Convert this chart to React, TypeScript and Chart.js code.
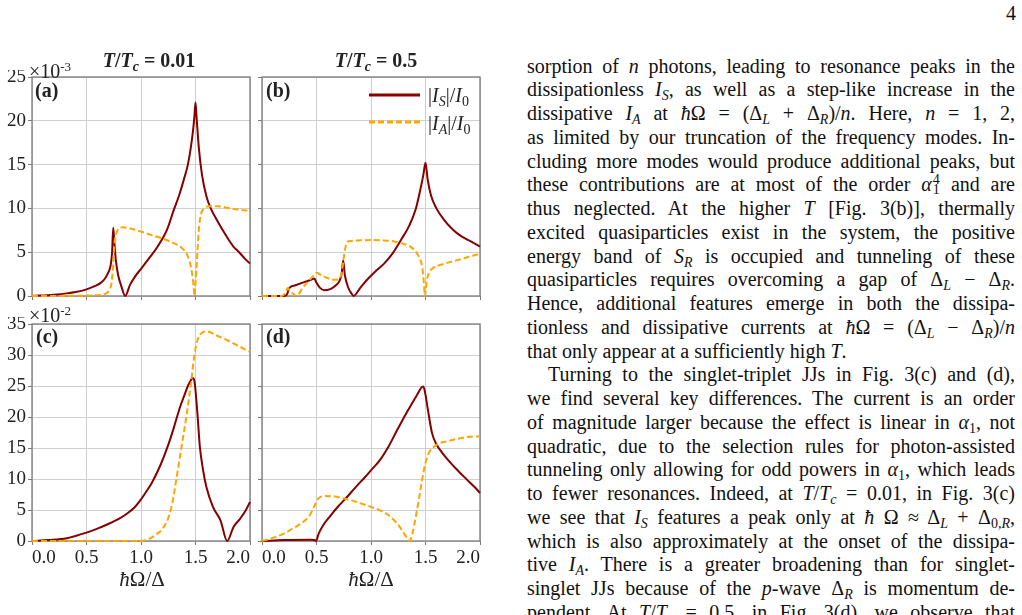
import React, { useEffect, useRef } from 'react';
import { Chart, registerables } from 'chart.js';

Chart.register(...registerables);

// ---------- shared axis settings ----------
const xTickValues = [0, 0.5, 1.0, 1.5, 2.0];
const xTickLabels = ['0.0', '0.5', '1.0', '1.5', '2.0'];
const yTicksTop = [0, 5, 10, 15, 20, 25];
const yTicksBottom = [0, 5, 10, 15, 20, 25, 30, 35];

// ---------- (a) singlet-singlet, T/Tc = 0.01  (units of 1e-3) ----------
const aSx = [0, 0.2, 0.32, 0.4, 0.5, 0.58, 0.63, 0.67, 0.7, 0.72, 0.735, 0.745, 0.755, 0.77, 0.79, 0.82, 0.855, 0.9, 0.95, 1.0, 1.08, 1.15, 1.24, 1.3, 1.35, 1.4, 1.43, 1.46, 1.48, 1.49, 1.5, 1.51, 1.53, 1.56, 1.6, 1.64, 1.7, 1.78, 1.85, 1.9, 1.95, 2.0];
const aSy = [0, 0.15, 0.3, 0.45, 0.76, 1.15, 1.5, 2.0, 2.7, 3.4, 5.0, 7.8, 6.2, 4.0, 2.4, 1.1, 0, 1.3, 2.3, 3.1, 4.4, 5.6, 7.6, 9.8, 11.5, 13.6, 15.0, 17.2, 19.2, 20.5, 22.1, 20.4, 17.0, 13.8, 11.4, 10.0, 8.6, 6.9, 5.6, 5.0, 4.3, 3.7];
const aAx = [0, 0.5, 0.6, 0.68, 0.71, 0.73, 0.745, 0.755, 0.77, 0.79, 0.83, 0.9, 1.0, 1.1, 1.2, 1.28, 1.34, 1.39, 1.42, 1.445, 1.46, 1.475, 1.485, 1.49, 1.5, 1.515, 1.53, 1.55, 1.58, 1.63, 1.7, 1.8, 1.9, 2.0];
const aAy = [0, 0.05, 0.1, 0.3, 0.7, 1.5, 3.5, 5.8, 7.0, 7.6, 7.85, 7.7, 7.35, 6.95, 6.55, 6.15, 5.8, 5.3, 4.8, 4.0, 3.2, 2.0, 0.8, 0, 1.5, 4.5, 7.5, 9.3, 10.0, 10.25, 10.25, 10.05, 9.85, 9.7];

// ---------- (b) singlet-singlet, T/Tc = 0.5  (units of 1e-3) ----------
const bSx = [0, 0.2, 0.23, 0.25, 0.3, 0.38, 0.45, 0.48, 0.5, 0.53, 0.57, 0.62, 0.67, 0.71, 0.73, 0.745, 0.76, 0.79, 0.82, 0.84, 0.9, 0.96, 1.04, 1.12, 1.2, 1.28, 1.35, 1.41, 1.45, 1.48, 1.5, 1.52, 1.55, 1.6, 1.67, 1.75, 1.83, 1.92, 2.0];
const bSy = [0, 0, 0.2, 0.9, 1.2, 1.55, 1.85, 2.0, 1.5, 0.95, 0.65, 0.75, 1.15, 1.7, 2.5, 4.05, 2.4, 1.0, 0.3, 0, 0.9, 1.8, 2.8, 3.7, 4.9, 6.5, 8.0, 9.9, 12.0, 13.8, 15.2, 13.3, 11.5, 10.0, 8.7, 7.6, 6.8, 6.2, 5.65];
const bAx = [0, 0.18, 0.21, 0.235, 0.25, 0.28, 0.32, 0.37, 0.42, 0.47, 0.5, 0.54, 0.6, 0.66, 0.7, 0.73, 0.755, 0.775, 0.8, 0.9, 1.0, 1.1, 1.2, 1.3, 1.37, 1.42, 1.45, 1.47, 1.485, 1.495, 1.51, 1.53, 1.57, 1.65, 1.75, 1.85, 1.93, 2.0];
const bAy = [0, 0, 0.3, 0.9, 0.7, 0.3, 0, 0.9, 1.6, 2.3, 2.65, 2.4, 2.05, 1.85, 1.9, 2.6, 4.8, 6.0, 6.25, 6.35, 6.4, 6.35, 6.25, 5.95, 5.55, 4.9, 4.2, 3.3, 1.5, 0, 1.6, 2.6, 3.2, 3.6, 3.95, 4.3, 4.6, 4.8];

// ---------- (c) singlet-triplet, T/Tc = 0.01  (units of 1e-2) ----------
const cSx = [0, 0.15, 0.32, 0.5, 0.6, 0.72, 0.8, 0.87, 0.94, 1.0, 1.05, 1.1, 1.18, 1.25, 1.3, 1.33, 1.36, 1.4, 1.43, 1.46, 1.475, 1.49, 1.5, 1.52, 1.54, 1.57, 1.6, 1.66, 1.73, 1.79, 1.85, 1.91, 1.96, 2.0];
const cSy = [0, 0.15, 0.45, 1.35, 2.0, 2.9, 3.6, 4.4, 5.4, 6.7, 8.0, 9.4, 12.3, 15.5, 18.2, 20.0, 21.7, 23.6, 25.0, 26.0, 26.3, 25.8, 24.3, 20.0, 15.2, 11.4, 8.7, 5.5, 3.3, 0, 2.3, 3.6, 4.9, 6.3];
const cAx = [0, 1.0, 1.05, 1.1, 1.15, 1.2, 1.25, 1.28, 1.32, 1.37, 1.42, 1.455, 1.49, 1.52, 1.56, 1.6, 1.7, 1.8, 1.9, 2.0];
const cAy = [0, 0, 0.2, 0.6, 1.2, 2.0, 3.7, 5.5, 9.5, 15.0, 20.5, 25.0, 30.0, 32.5, 33.6, 33.8, 33.1, 32.3, 31.4, 30.5];

// ---------- (d) singlet-triplet, T/Tc = 0.5  (units of 1e-2) ----------
const dSx = [0, 0.2, 0.45, 0.48, 0.495, 0.52, 0.56, 0.62, 0.7, 0.78, 0.86, 0.94, 1.0, 1.08, 1.16, 1.24, 1.32, 1.38, 1.43, 1.46, 1.48, 1.5, 1.52, 1.56, 1.6, 1.65, 1.72, 1.8, 1.88, 1.95, 2.0];
const dSy = [0, 0.15, 0.2, 0.15, 0, 1.2, 2.5, 3.9, 5.6, 7.1, 8.7, 10.2, 11.4, 13.0, 15.2, 17.9, 20.5, 22.3, 23.8, 24.7, 24.9, 23.6, 21.4, 17.4, 15.6, 14.3, 12.8, 11.3, 9.9, 8.7, 7.75];
const dAx = [0, 0.1, 0.2, 0.3, 0.38, 0.44, 0.48, 0.52, 0.58, 0.66, 0.74, 0.82, 0.9, 1.0, 1.1, 1.18, 1.24, 1.29, 1.33, 1.355, 1.38, 1.41, 1.44, 1.47, 1.5, 1.53, 1.57, 1.62, 1.7, 1.8, 1.9, 2.0];
const dAy = [0, 0.5, 1.2, 2.2, 3.1, 4.2, 5.6, 6.9, 7.25, 7.2, 6.9, 6.55, 6.1, 5.5, 4.8, 3.9, 2.8, 1.6, 0.5, 0, 1.2, 3.8, 6.8, 10.0, 12.6, 14.2, 15.1, 15.7, 16.1, 16.5, 16.8, 16.9];

// ---------- styling ----------
const SERIF = '"Liberation Serif", "Times New Roman", serif';
const RED = '#850000';
const ORANGE = '#ffa500';
const GRID = '#cfcfcf';
const FRAME = '#7a7a7a';
const TEXT = '#222';
const TICK_FONT = 19;

type Pt = { x: number; y: number };
const pts = (xs: number[], ys: number[]): Pt[] => xs.map((x, i) => ({ x, y: ys[i] }));

const framePlugin = {
  id: 'frame',
  beforeDatasetsDraw(chart: any) {
    const { ctx, chartArea } = chart;
    ctx.save();
    ctx.strokeStyle = FRAME;
    ctx.lineWidth = 1.3;
    ctx.strokeRect(chartArea.left, chartArea.top, chartArea.right - chartArea.left, chartArea.bottom - chartArea.top);
    ctx.restore();
  },
};

type PanelProps = {
  left: number;
  top: number;
  width: number;
  height: number;
  padTop: number;
  padRight: number;
  yWidth: number;
  xHeight: number;
  yMax: number;
  yTicks: number[];
  showX: boolean;
  showY: boolean;
  s: Pt[];
  a: Pt[];
};

function Panel(p: PanelProps) {
  const ref = useRef<HTMLCanvasElement>(null);
  useEffect(() => {
    const chart = new Chart(ref.current as HTMLCanvasElement, {
      type: 'line',
      data: {
        datasets: [
          {
            label: 'IS',
            data: p.s,
            borderColor: RED,
            borderWidth: 2,
            pointRadius: 0,
            cubicInterpolationMode: 'monotone',
            clip: 4,
            order: 2,
          } as any,
          {
            label: 'IA',
            data: p.a,
            borderColor: ORANGE,
            borderWidth: 2,
            borderDash: [6, 3],
            pointRadius: 0,
            cubicInterpolationMode: 'monotone',
            clip: 4,
            order: 1,
          } as any,
        ],
      },
      options: {
        responsive: false,
        animation: false,
        devicePixelRatio: 1,
        events: [],
        layout: { padding: { top: p.padTop, right: p.padRight, left: 0, bottom: 0 } },
        plugins: { legend: { display: false }, tooltip: { enabled: false } },
        scales: {
          x: {
            type: 'linear',
            min: 0,
            max: 2,
            afterBuildTicks: (scale: any) => {
              scale.ticks = xTickValues.map((v) => ({ value: v }));
            },
            afterFit: (scale: any) => {
              scale.height = p.xHeight;
              scale.paddingLeft = 0;
              scale.paddingRight = 0;
            },
            ticks: {
              display: p.showX,
              align: 'inner',
              autoSkip: false,
              maxRotation: 0,
              padding: 2,
              color: TEXT,
              font: { family: SERIF, size: TICK_FONT },
              callback: (_v: any, i: number) => xTickLabels[i],
            },
            grid: { color: GRID, tickColor: FRAME, tickLength: 4, lineWidth: 1 },
            border: { display: false },
          } as any,
          y: {
            type: 'linear',
            min: 0,
            max: p.yMax,
            afterBuildTicks: (scale: any) => {
              scale.ticks = p.yTicks.map((v) => ({ value: v }));
            },
            afterFit: (scale: any) => {
              scale.width = p.yWidth;
              scale.paddingTop = 0;
              scale.paddingBottom = 0;
            },
            ticks: {
              display: p.showY,
              padding: 2,
              color: TEXT,
              font: { family: SERIF, size: TICK_FONT },
              callback: (v: any) => String(v),
            },
            grid: { color: GRID, tickColor: FRAME, tickLength: 4, lineWidth: 1 },
            border: { display: false },
          } as any,
        },
      },
      plugins: [framePlugin],
    });
    return () => chart.destroy();
  }, []);
  return (
    <canvas
      ref={ref}
      width={p.width}
      height={p.height}
      style={{ position: 'absolute', left: p.left, top: p.top, width: p.width, height: p.height }}
    />
  );
}

// ---------- text helpers ----------
const Sb = ({ children }: { children: React.ReactNode }) => (
  <span style={{ fontSize: '0.7em', verticalAlign: '-0.28em', lineHeight: 0 }}>{children}</span>
);

const At = ({ x, y, center, style, children }: { x: number; y: number; center?: boolean; style?: React.CSSProperties; children: React.ReactNode }) => (
  <div
    style={{
      position: 'absolute',
      left: x,
      top: y,
      whiteSpace: 'nowrap',
      lineHeight: 1,
      transform: center ? 'translateX(-50%)' : undefined,
      ...style,
    }}
  >
    {children}
  </div>
);

type BodyLine = { c: React.ReactNode; last?: boolean; indent?: boolean };

const bodyLines: BodyLine[] = [
  { c: <>sorption of <i>n</i> photons, leading to resonance peaks in the</> },
  { c: <>dissipationless <i>I</i><Sb><i>S</i></Sb>, as well as a step-like increase in the</> },
  { c: <>dissipative <i>I</i><Sb><i>A</i></Sb> at <i>ħ</i>Ω = (Δ<Sb><i>L</i></Sb> + Δ<Sb><i>R</i></Sb>)/<i>n</i>. Here, <i>n</i> = 1, 2,</> },
  { c: <>as limited by our truncation of the frequency modes. In-</> },
  { c: <>cluding more modes would produce additional peaks, but</> },
  {
    c: (
      <>
        these contributions are at most of the order <i>α</i>
        <span style={{ position: 'relative', display: 'inline-block', width: '0.42em', height: 0, lineHeight: 0 }}>
          <span style={{ position: 'absolute', left: 1, top: -19, fontSize: 14, lineHeight: 'normal' }}>4</span>
          <span style={{ position: 'absolute', left: 1, top: -9, fontSize: 14, lineHeight: 'normal' }}>1</span>
        </span>{' '}
        and are
      </>
    ),
  },
  { c: <>thus neglected. At the higher <i>T</i> [Fig. 3(b)], thermally</> },
  { c: <>excited quasiparticles exist in the system, the positive</> },
  { c: <>energy band of <i>S</i><Sb><i>R</i></Sb> is occupied and tunneling of these</> },
  { c: <>quasiparticles requires overcoming a gap of Δ<Sb><i>L</i></Sb> − Δ<Sb><i>R</i></Sb>.</> },
  { c: <>Hence, additional features emerge in both the dissipa-</> },
  { c: <>tionless and dissipative currents at <i>ħ</i>Ω = (Δ<Sb><i>L</i></Sb> − Δ<Sb><i>R</i></Sb>)/<i>n</i></> },
  { c: <>that only appear at a sufficiently high <i>T</i>.</>, last: true },
  { c: <>Turning to the singlet-triplet JJs in Fig. 3(c) and (d),</>, indent: true },
  { c: <>we find several key differences. The current is an order</> },
  { c: <>of magnitude larger because the effect is linear in <i>α</i><Sb>1</Sb>, not</> },
  { c: <>quadratic, due to the selection rules for photon-assisted</> },
  { c: <>tunneling only allowing for odd powers in <i>α</i><Sb>1</Sb>, which leads</> },
  { c: <>to fewer resonances. Indeed, at <i>T</i>/<i>T</i><Sb><i>c</i></Sb> = 0.01, in Fig. 3(c)</> },
  { c: <>we see that <i>I</i><Sb><i>S</i></Sb> features a peak only at <i>ħ</i> Ω ≈ Δ<Sb><i>L</i></Sb> + Δ<Sb>0,<i>R</i></Sb>,</> },
  { c: <>which is also approximately at the onset of the dissipa-</> },
  { c: <>tive <i>I</i><Sb><i>A</i></Sb>. There is a greater broadening than for singlet-</> },
  { c: <>singlet JJs because of the <i>p</i>-wave Δ<Sb><i>R</i></Sb> is momentum de-</> },
  { c: <>pendent. At <i>T</i>/<i>T</i><Sb><i>c</i></Sb> = 0.5, in Fig. 3(d), we observe that</> },
];

export default function App() {
  const figFont: React.CSSProperties = { fontFamily: SERIF, fontSize: 20, color: TEXT };
  return (
    <div
      style={{
        position: 'absolute',
        left: 0,
        top: 0,
        width: 1022,
        height: 615,
        overflow: 'hidden',
        background: '#fff',
        fontFamily: SERIF,
      }}
    >
      {/* four panels */}
      <Panel left={0} top={70} width={256} height={232} padTop={7} padRight={6} yWidth={32} xHeight={6}
        yMax={25} yTicks={yTicksTop} showX={false} showY={true} s={pts(aSx, aSy)} a={pts(aAx, aAy)} />
      <Panel left={256} top={70} width={230} height={232} padTop={7} padRight={6} yWidth={6} xHeight={6}
        yMax={25} yTicks={yTicksTop} showX={false} showY={false} s={pts(bSx, bSy)} a={pts(bAx, bAy)} />
      <Panel left={0} top={317} width={256} height={298} padTop={7} padRight={6} yWidth={32} xHeight={74}
        yMax={35} yTicks={yTicksBottom} showX={true} showY={true} s={pts(cSx, cSy)} a={pts(cAx, cAy)} />
      <Panel left={256} top={317} width={230} height={298} padTop={7} padRight={6} yWidth={6} xHeight={74}
        yMax={35} yTicks={yTicksBottom} showX={true} showY={false} s={pts(dSx, dSy)} a={pts(dAx, dAy)} />

      {/* figure annotations */}
      <div style={{ ...figFont, position: 'absolute', left: 0, top: 0, width: 500, height: 615, pointerEvents: 'none' }}>
        <At x={149} y={50} center style={{ fontWeight: 'bold' }}>
          <i>T</i>/<i>T</i><Sb><i>c</i></Sb> = 0.01
        </At>
        <At x={376} y={50} center style={{ fontWeight: 'bold' }}>
          <i>T</i>/<i>T</i><Sb><i>c</i></Sb> = 0.5
        </At>
        <At x={29} y={60}>
          ×10<span style={{ fontSize: 13, verticalAlign: 7 }}>-3</span>
        </At>
        <At x={29} y={304}>
          ×10<span style={{ fontSize: 13, verticalAlign: 7 }}>-2</span>
        </At>
        <At x={35} y={80} style={{ fontWeight: 'bold' }}>(a)</At>
        <At x={266} y={80} style={{ fontWeight: 'bold' }}>(b)</At>
        <At x={36} y={326} style={{ fontWeight: 'bold' }}>(c)</At>
        <At x={266} y={326} style={{ fontWeight: 'bold' }}>(d)</At>
        <At x={142} y={569} center style={{ fontSize: 21 }}>
          <i>ħ</i>Ω/Δ
        </At>
        <At x={371} y={569} center style={{ fontSize: 21 }}>
          <i>ħ</i>Ω/Δ
        </At>

        {/* legend */}
        <svg style={{ position: 'absolute', left: 368, top: 88, width: 56, height: 40 }} width={56} height={40}>
          <line x1={1} y1={7} x2={52} y2={7} stroke={RED} strokeWidth={3} />
          <line x1={1} y1={34} x2={52} y2={34} stroke={ORANGE} strokeWidth={3} strokeDasharray="6 3" />
        </svg>
        <At x={428} y={85}>
          |<i>I</i><Sb><i>S</i></Sb>|/<i>I</i><Sb>0</Sb>
        </At>
        <At x={428} y={113}>
          |<i>I</i><Sb><i>A</i></Sb>|/<i>I</i><Sb>0</Sb>
        </At>
      </div>

      {/* page number */}
      <At x={1006} y={3} style={{ fontSize: 20, color: '#111' }}>4</At>

      {/* body text */}
      <div
        style={{
          position: 'absolute',
          left: 527,
          top: 54.7,
          width: 488,
          fontSize: 20,
          lineHeight: '23.75px',
          color: '#111',
        }}
      >
        {bodyLines.map((l, i) => (
          <div
            key={i}
            style={{
              height: 23.75,
              overflow: 'hidden',
              textAlign: l.last ? 'left' : 'justify',
              textAlignLast: l.last ? 'left' : 'justify',
              paddingLeft: l.indent ? 21 : 0,
            }}
          >
            {l.c}
          </div>
        ))}
      </div>
    </div>
  );
}
